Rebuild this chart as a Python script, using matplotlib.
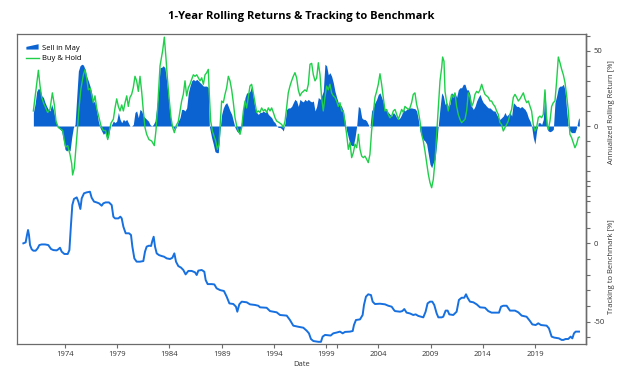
import matplotlib
matplotlib.use("Agg")
import matplotlib.pyplot as plt
from matplotlib.patches import Polygon, Patch
from matplotlib.lines import Line2D
from matplotlib.legend_handler import HandlerPatch
from matplotlib.ticker import FixedLocator, FuncFormatter

plt.rcParams['font.family'] = ['Open Sans', 'DejaVu Sans']
plt.rcParams['axes.unicode_minus'] = False

# Sell in May: 1-year rolling return [%]
sim_years = [
    1970.97, 1971.13, 1971.29, 1971.45, 1971.61, 1971.77, 1971.93, 1972.09, 1972.25, 1972.40,
    1972.56, 1972.72, 1972.88, 1973.04, 1973.20, 1973.36, 1973.52, 1973.68, 1973.84, 1974.00,
    1974.16, 1974.32, 1974.48, 1974.64, 1974.80, 1974.96, 1975.12, 1975.28, 1975.44, 1975.60,
    1975.76, 1975.92, 1976.07, 1976.23, 1976.39, 1976.55, 1976.71, 1976.87, 1977.03, 1977.19,
    1977.35, 1977.51, 1977.67, 1977.83, 1977.99, 1978.15, 1978.31, 1978.47, 1978.63, 1978.79,
    1978.95, 1979.11, 1979.27, 1979.43, 1979.59, 1979.75, 1979.91, 1980.06, 1980.22, 1980.38,
    1980.54, 1980.70, 1980.86, 1981.02, 1981.18, 1981.34, 1981.50, 1981.66, 1981.82, 1981.98,
    1982.14, 1982.30, 1982.46, 1982.62, 1982.78, 1982.94,
    1983.10, 1983.26, 1983.41, 1983.57, 1983.73, 1983.89, 1984.05, 1984.21, 1984.37, 1984.53,
    1984.69, 1984.85, 1985.01, 1985.17, 1985.33, 1985.49, 1985.65, 1985.81, 1985.97, 1986.13,
    1986.29, 1986.45, 1986.61, 1986.77, 1986.93, 1987.09, 1987.25, 1987.41, 1987.57, 1987.72,
    1987.82, 1987.88, 1988.04, 1988.20, 1988.36, 1988.52, 1988.68, 1988.84, 1989.00, 1989.16,
    1989.32, 1989.48, 1989.64, 1989.80, 1989.96, 1990.12, 1990.28, 1990.44, 1990.60, 1990.76,
    1990.92, 1991.08, 1991.24, 1991.39, 1991.55, 1991.71, 1991.87, 1992.03, 1992.19, 1992.35,
    1992.51, 1992.67, 1992.83, 1992.99, 1993.15, 1993.31, 1993.47, 1993.63, 1993.79, 1993.95,
    1994.11, 1994.27, 1994.43, 1994.59, 1994.75, 1994.91, 1995.07, 1995.22, 1995.38, 1995.54,
    1995.70, 1995.86,
    1996.02, 1996.18, 1996.34, 1996.50, 1996.66, 1996.82, 1996.98, 1997.14, 1997.30, 1997.46,
    1997.62, 1997.78, 1997.94, 1998.10, 1998.26, 1998.42, 1998.57, 1998.73, 1998.89, 1999.05,
    1999.21, 1999.37, 1999.53, 1999.69, 1999.85, 2000.01, 2000.17, 2000.33, 2000.49, 2000.65,
    2000.81, 2000.97, 2001.13, 2001.29, 2001.45, 2001.61, 2001.77, 2001.93, 2002.09, 2002.25,
    2002.41, 2002.57, 2002.72, 2002.88, 2003.04, 2003.20, 2003.36, 2003.52, 2003.68, 2003.84,
    2004.00, 2004.16, 2004.32, 2004.48, 2004.64, 2004.80, 2004.96, 2005.12, 2005.28, 2005.44,
    2005.60, 2005.76, 2005.92, 2006.08, 2006.24, 2006.40, 2006.55, 2006.71, 2006.87, 2007.03,
    2007.19, 2007.35, 2007.51, 2007.67, 2007.83, 2007.99, 2008.15, 2008.31, 2008.47, 2008.63,
    2008.79,
    2008.95, 2009.11, 2009.27, 2009.43, 2009.59, 2009.75, 2009.91, 2010.07, 2010.23, 2010.39,
    2010.55, 2010.70, 2010.86, 2011.02, 2011.18, 2011.34, 2011.50, 2011.66, 2011.82, 2011.98,
    2012.14, 2012.30, 2012.46, 2012.62, 2012.78, 2012.94, 2013.10, 2013.26, 2013.42, 2013.58,
    2013.74, 2013.90, 2014.06, 2014.22, 2014.38, 2014.54, 2014.70, 2014.85, 2015.01, 2015.17,
    2015.33, 2015.49, 2015.65, 2015.81, 2015.97, 2016.13, 2016.29, 2016.45, 2016.61, 2016.77,
    2016.93, 2017.09, 2017.25, 2017.41, 2017.57, 2017.73, 2017.89, 2018.05, 2018.21, 2018.37,
    2018.53, 2018.68, 2018.84, 2019.00, 2019.16, 2019.32, 2019.48, 2019.64, 2019.80, 2019.96,
    2020.06, 2020.18, 2020.28, 2020.44, 2020.60, 2020.76, 2020.92, 2021.08, 2021.24, 2021.40,
    2021.56, 2021.72, 2021.88, 2022.04, 2022.20, 2022.35, 2022.51, 2022.67, 2022.83, 2022.99,
    2023.15, 2023.25,
]
sim_ret = [
    9, 14.4, 23, 25, 24, 20, 19, 15.5, 13, 11,
    10, 14.4, 11, 5.5, 1, -1, -2.2, -3.3, -9, -15.5,
    -16.6, -15.5, -16.6, -7.7, -1, 1, 19, 36.5, 40, 41,
    40.5, 37.6, 33, 30, 26.5, 22, 16.6, 15.5, 10, 3.3,
    -1, -3.3, -5.5, -4.4, -7.7, -7.7, -1, 1, 3.3, 2.2,
    3.3, 9, 4.4, 2.2, 4.4, 3.3, 4.4, 2.2, 0, 0,
    1, 9, 10, 5.5, 11, 10, 6.6, 5.5, 4.4, 3.3,
    1, 0, 1, 3.3, 12, 21,
    38.7, 39, 40, 38.7, 30, 19, 7.7, 1, -1, -2.6,
    0, 3.3, 5.5, 11, 11, 10, 12, 22, 26.5, 30,
    31, 30, 31, 30, 28.8, 27.7, 26.5, 26.5, 26.5, 25.4,
    0, -2.2, -7.7, -12, -17, -17.7, -17.7, -3.3, 7.7, 12,
    14.4, 15.5, 13, 10, 7.7, 3.3, -1, -3.3, -4.4, -3.3,
    3.3, 12, 19, 22, 22, 23, 26.5, 19, 12, 9,
    7.7, 9, 9, 10, 9, 10, 7.7, 6.6, 5.5, 3.3,
    2.2, 0, -1, -1, -1.8, -3.3, 2.2, 11, 12, 12,
    13, 15.5,
    17.7, 16.6, 13, 17.7, 16.6, 16, 17.7, 16.6, 17.7, 16.6,
    16, 16.6, 10, 13, 19, 17.7, 20, 23, 41, 40,
    34, 35.4, 33, 28.8, 23, 19, 15.5, 14.4, 13, 10,
    3.3, -3.3, -7.7, -12, -13, -13, -7.7, 0, 13, 12,
    5.5, 4.4, 4.4, 3.3, 1, -1, 10, 12, 15.5, 17.7,
    21, 22, 19, 15.5, 11, 10, 9, 7.7, 6.6, 9,
    7.7, 5.5, 4.4, 5.5, 7.7, 11, 10, 11, 11.7, 12,
    12, 11.7, 11.5, 10, 4.4, -3.3, -6.6, -9, -10, -12,
    -18.8,
    -25.4, -27.7, -24.3, -22, -12, 1, 12, 22, 20, 14.4,
    15.5, 13, 14.4, 22, 21, 22, 19, 24, 25.4, 25.4,
    27.7, 27.7, 24, 24, 21, 13, 11, 13, 16.6, 19,
    21, 17.7, 15.5, 14.4, 13, 12, 12, 11, 10, 10,
    7.7, 5.5, 4.4, 5.5, 6.6, 9, 6.6, 7.7, 9, 6.6,
    15.5, 14.4, 13, 13, 12, 13, 12, 11, 9, 5.5,
    3.3, 0, -7.7, -12, -3.3, 2.2, 2.2, 1, 4.4, 24,
    12, -2.2, -3.3, -3.8, -3.3, -2.2, 15.5, 20, 25.4, 26.5,
    26.5, 27.7, 24, 10, -1, -3.3, -4.4, -4.4, -4.4, -1,
    4.4, 5.5,
]

# Buy & Hold: 1-year rolling return [%]
bh_years = [
    1970.97, 1971.45, 1971.61, 1971.77, 1971.93, 1972.15, 1972.34, 1972.56, 1972.79, 1972.98,
    1973.14, 1973.36, 1973.59, 1973.78, 1973.94, 1974.06, 1974.26, 1974.48, 1974.64, 1974.73,
    1974.89, 1975.02, 1975.18, 1975.34, 1975.53, 1975.76, 1975.92, 1976.07, 1976.23, 1976.43,
    1976.55, 1976.71, 1976.87, 1977.03, 1977.26, 1977.45, 1977.67, 1977.89, 1978.09, 1978.25,
    1978.41, 1978.63, 1978.79, 1978.95, 1979.11, 1979.27, 1979.43, 1979.59, 1979.75, 1979.91,
    1980.06, 1980.22, 1980.38, 1980.54, 1980.70, 1980.86, 1981.02, 1981.18, 1981.34, 1981.50,
    1981.66, 1981.82, 1982.04, 1982.30, 1982.55, 1982.71, 1982.87,
    1983.10, 1983.35, 1983.51, 1983.67, 1983.80, 1983.96, 1984.15, 1984.31, 1984.47, 1984.63,
    1984.85, 1985.01, 1985.17, 1985.33, 1985.49, 1985.65, 1985.81, 1985.97, 1986.13, 1986.29,
    1986.45, 1986.61, 1986.77, 1986.93, 1987.09, 1987.25, 1987.41, 1987.57, 1987.72, 1987.82,
    1987.95, 1988.11, 1988.27, 1988.43, 1988.59, 1988.75, 1988.84, 1989.00, 1989.16, 1989.32,
    1989.48, 1989.64, 1989.80, 1989.96, 1990.12, 1990.28, 1990.44, 1990.60, 1990.76, 1990.92,
    1991.08, 1991.24, 1991.39, 1991.55, 1991.71, 1991.87, 1992.03, 1992.19, 1992.35, 1992.51,
    1992.67, 1992.83, 1992.99, 1993.15, 1993.31, 1993.47, 1993.63, 1993.79, 1993.95, 1994.11,
    1994.27, 1994.52, 1994.75, 1994.91, 1995.07, 1995.22, 1995.38, 1995.54, 1995.70, 1995.86,
    1996.02, 1996.18, 1996.34, 1996.50, 1996.66, 1996.82, 1996.98, 1997.14, 1997.30, 1997.46,
    1997.62, 1997.78, 1997.94, 1998.10, 1998.26, 1998.42, 1998.57, 1998.73, 1998.89, 1999.05,
    1999.21, 1999.37, 1999.53, 1999.69, 1999.85, 2000.01, 2000.17, 2000.33, 2000.49, 2000.65,
    2000.81, 2000.97, 2001.13, 2001.29, 2001.45, 2001.61, 2001.77, 2001.93, 2002.09, 2002.25,
    2002.41, 2002.57, 2002.72, 2002.88, 2003.04, 2003.20, 2003.36, 2003.52, 2003.68, 2003.84,
    2004.00, 2004.16, 2004.32, 2004.48, 2004.64, 2004.80, 2004.96, 2005.12, 2005.28, 2005.44,
    2005.60, 2005.76, 2005.92, 2006.08, 2006.24, 2006.40, 2006.55, 2006.71, 2006.87, 2007.03,
    2007.19, 2007.35, 2007.51, 2007.67, 2007.83, 2007.99, 2008.15, 2008.31, 2008.47, 2008.63,
    2008.79,
    2008.95, 2009.11, 2009.27, 2009.43, 2009.59, 2009.75, 2009.91, 2010.07, 2010.16, 2010.29,
    2010.39, 2010.55, 2010.70, 2010.86, 2011.02, 2011.18, 2011.34, 2011.50, 2011.66, 2011.82,
    2011.98, 2012.14, 2012.30, 2012.46, 2012.62, 2012.78, 2012.94, 2013.10, 2013.26, 2013.42,
    2013.58, 2013.74, 2013.90, 2014.06, 2014.22, 2014.38, 2014.54, 2014.70, 2014.85, 2015.01,
    2015.17, 2015.33, 2015.49, 2015.65, 2015.81, 2015.97, 2016.13, 2016.29, 2016.45, 2016.61,
    2016.77, 2016.93, 2017.09, 2017.25, 2017.41, 2017.57, 2017.73, 2017.89, 2018.05, 2018.21,
    2018.37, 2018.53, 2018.68, 2018.84, 2019.00, 2019.16, 2019.32, 2019.48, 2019.64, 2019.80,
    2019.96, 2020.06, 2020.18, 2020.28, 2020.44, 2020.60, 2020.76, 2020.92, 2021.08, 2021.24,
    2021.40, 2021.56, 2021.72, 2021.88, 2022.04, 2022.20, 2022.35, 2022.51, 2022.67, 2022.83,
    2022.99, 2023.15, 2023.25,
]
bh_ret = [
    10, 37, 26.5, 19, 15.5, 12, 9, 11, 22, 14,
    3, -1, -2, -3, -10, -14, -13, -19, -25, -32.5,
    -28, -17, -3, 12, 25, 34, 37.5, 32, 24, 25,
    21, 15.5, 20, 12, 5.5, 0, -3, -3, -9, -3,
    2, 4.5, 12, 18, 13, 10, 14, 10, 15.5, 20,
    13, 19, 21, 25.5, 33, 30, 23, 33, 23, 10,
    -1, -5.5, -9, -10, -13, -3, 12,
    40, 50, 59, 45, 32, 19, 5.5, -1, -4.4, 0,
    3, 10, 16.6, 21, 30, 20, 25.4, 27.7, 31, 34,
    33, 34, 32, 30, 32, 27.7, 34, 35.4, 37.6, 21,
    3.3, -3.3, -6.6, -10, -15.5, -12, -1, 16.6, 15.5, 21,
    25.4, 33, 30, 24, 15.5, 5.5, 0, -3.3, -5.5, -1,
    10, 16.6, 12, 19, 26.5, 27.7, 22, 15.5, 9, 10,
    9, 12, 10, 11, 9, 12, 10, 12, 9, 5.5,
    3.3, 2.2, 1, -1, 3.3, 12, 22, 26.5, 30, 33,
    35.4, 32, 24, 20, 22, 23, 24, 23, 27.7, 41,
    41.6, 34, 30, 32, 42, 34, 19, 10, 19, 26.5,
    24, 27.7, 22, 20, 19, 16.6, 13, 15.5, 10, 10,
    2.2, -5.5, -15.5, -11, -21, -17.7, -12, -14.4, -5.5, -15.5,
    -20, -21, -20, -22, -24.3, -18.8, -3.3, 7.7, 19, 23,
    27.7, 34.7, 27.7, 19, 10, 11, 7.7, 5.5, 6.6, 10,
    11, 7.7, 4.4, 7.7, 11, 9, 13, 12, 11, 12,
    15.5, 21, 22, 14.4, 10, 3.3, -5.5, -10, -16.6, -24.3,
    -32,
    -37.6, -41, -35.4, -23, -5.5, 12, 30, 38.7, 45.8, 43,
    23, 15.5, 10, 15.5, 21, 19, 22, 13, 7.7, 4.4,
    2.2, 3.3, 4.4, 10, 22, 19, 13, 15.5, 21, 23,
    22, 24, 27.7, 24, 21, 20, 19, 16.6, 16.6, 14.4,
    13, 10, 7.7, 2.2, 1, -3.3, -1, 1, 3.3, 7.7,
    11, 19, 21, 19, 16.6, 18, 20, 22, 18, 15.5,
    16.6, 13, 10, 1, -3.3, -1, 5.5, 6.6, 5.5, 7.7,
    24, 10, 0, -2.2, 3.3, 13, 15.5, 16.6, 30, 45.8,
    42, 37.6, 34, 28.8, 20, 10, -5.5, -7.7, -11, -14.4,
    -12, -7.7, -7.3,
]

# Tracking to benchmark [%]
trk_years = [
    1970.01, 1970.23, 1970.36, 1970.46, 1970.55, 1970.65, 1970.81, 1970.97, 1971.19, 1971.38,
    1971.54, 1971.77, 1972.09, 1972.40, 1972.66, 1972.88, 1973.20, 1973.36, 1973.52, 1973.68,
    1973.94, 1974.26, 1974.42, 1974.57, 1974.70, 1974.86, 1975.12, 1975.28, 1975.47, 1975.60,
    1975.82, 1976.08, 1976.39, 1976.55, 1976.78, 1977.03, 1977.26, 1977.51, 1977.67, 1977.89,
    1978.21, 1978.47, 1978.63, 1978.79, 1979.11, 1979.30, 1979.43, 1979.59, 1979.81, 1980.13,
    1980.32, 1980.45, 1980.64, 1980.86, 1981.18, 1981.50, 1981.66, 1981.82, 1982.04, 1982.24,
    1982.36, 1982.49, 1982.62, 1982.78, 1983.00, 1983.26, 1983.48, 1983.74, 1984.06, 1984.28,
    1984.47, 1984.63, 1984.85, 1985.11, 1985.33, 1985.55, 1985.81, 1986.13, 1986.45, 1986.61,
    1986.77, 1987.09, 1987.34, 1987.47, 1987.66, 1988.04, 1988.30, 1988.52, 1988.84, 1989.22,
    1989.48, 1989.74, 1990.12, 1990.37, 1990.50, 1990.69, 1990.92, 1991.40, 1991.71, 1992.19,
    1992.51, 1992.67, 1993.31, 1993.63, 1994.27, 1994.59, 1995.23, 1995.54, 1995.86, 1996.34,
    1996.82, 1997.14, 1997.36, 1997.55, 1997.78, 1998.26, 1998.51, 1998.67, 1998.90, 1999.22,
    1999.44, 1999.69, 2000.01, 2000.33, 2000.59, 2000.81, 2001.29, 2001.55, 2001.67, 2001.86,
    2002.25, 2002.50, 2002.63, 2002.82, 2003.04, 2003.30, 2003.46, 2003.68, 2004.16, 2004.64,
    2004.96, 2005.28, 2005.50, 2005.60, 2006.08, 2006.30, 2006.49, 2006.71, 2007.03, 2007.35,
    2007.58, 2007.83, 2008.31, 2008.53, 2008.72, 2008.95, 2009.17, 2009.36, 2009.59, 2009.75,
    2010.07, 2010.22, 2010.45, 2010.64, 2010.80, 2011.18, 2011.50, 2011.72, 2011.98, 2012.23,
    2012.40, 2012.55, 2012.78, 2013.10, 2013.42, 2013.74, 2014.22, 2014.53, 2014.85, 2015.33,
    2015.56, 2015.75, 2015.97, 2016.29, 2016.61, 2017.09, 2017.41, 2017.73, 2018.20, 2018.52,
    2018.75, 2019.07, 2019.32, 2019.58, 2020.12, 2020.34, 2020.60, 2020.85, 2021.30, 2021.56,
    2021.72, 2021.94, 2022.19, 2022.42, 2022.58, 2022.74, 2022.90, 2023.15, 2023.22,
]
trk_val = [
    0, 0.6, 5.3, 8.5, 5.3, -1.1, -3.8, -4.7, -4.7, -3.2,
    -1.1, -0.7, -0.7, -1.1, -3.6, -4.3, -4.5, -3.8, -2.8, -5.3,
    -6.8, -6.8, -4.3, 11.7, 24.4, 28.3, 29.3, 26.6, 21.9, 28.7,
    31.9, 32.5, 32.9, 29.1, 26.6, 26.1, 25.5, 24.0, 25.5, 26.1,
    26.1, 24.4, 17.0, 15.9, 15.9, 17.0, 15.9, 10.6, 6.4, 6.4,
    5.3, -2.1, -9.6, -11.7, -11.7, -11.3, -5.3, -2.1, -1.5, -1.7,
    1.5, 4.2, -2.1, -6.4, -7.5, -8.1, -8.5, -9.6, -10.0, -9.2,
    -6.4, -11.7, -14.5, -15.5, -17.0, -19.8, -17.6, -17.6, -18.5, -20.2,
    -17.4, -17.0, -18.1, -23.4, -26.0, -26.0, -26.2, -28.7, -29.8, -30.4,
    -34.0, -38.3, -38.7, -40.4, -43.6, -38.9, -37.2, -37.6, -38.9, -39.3,
    -39.8, -40.8, -41.1, -43.2, -44.0, -45.7, -46.1, -48.9, -52.5, -53.2,
    -53.8, -55.7, -57.4, -61.0, -62.3, -62.8, -62.8, -59.5, -58.4, -58.6,
    -58.8, -57.4, -56.9, -56.3, -57.4, -56.5, -56.3, -55.9, -52.1, -48.9,
    -48.5, -45.7, -39.3, -34.0, -32.5, -33.0, -37.2, -38.7, -38.5, -38.9,
    -39.8, -40.4, -42.5, -43.2, -43.6, -43.2, -41.9, -44.2, -44.7, -45.7,
    -45.3, -46.3, -47.2, -43.6, -38.3, -37.2, -37.2, -39.3, -44.7, -47.2,
    -47.2, -46.8, -42.9, -42.9, -45.3, -45.7, -43.6, -36.1, -34.7, -34.7,
    -32.5, -34.7, -37.2, -37.6, -38.9, -40.8, -41.1, -43.2, -44.2, -44.2,
    -44.2, -40.4, -39.8, -39.8, -42.9, -42.9, -44.0, -46.1, -46.8, -49.5,
    -51.7, -52.1, -51.0, -52.1, -52.5, -54.2, -59.5, -60.1, -60.6, -61.6,
    -61.6, -61.0, -61.0, -59.5, -60.6, -57.4, -56.3, -56.3, -56.3,
]

year_ticks = [1974, 1979, 1984, 1989, 1994, 1999, 2004, 2009, 2014, 2019]
ret_ticks = list(range(-50, 61, 10))
ret_labelled = [0, 50]
trk_ticks = list(range(-60, 41, 10))
trk_labelled = [-50, 0]

fill_blue = '#0a63d0'
line_blue = '#1770e0'
green = '#1fcf4a'
axis_grey = '#6b6b6b'

fig = plt.figure(figsize=(6.24, 3.81), dpi=100)
ax = fig.add_axes([0.0277, 0.0971, 0.9109, 0.8137])
ax.set_xlim(1969.43, 2023.86)
ax.set_yticks([])
ax.set_xticks(year_ticks)
ax.set_xticklabels([str(y) for y in year_ticks])
ax.set_xticks([2000], minor=True)
ax.tick_params(axis='x', which='both', length=3, width=0.8, color=axis_grey,
               labelsize=5.5, labelcolor='#333333', pad=2)
ax.set_xlabel('Date', fontsize=5.5, color='#333333', labelpad=2)
for s in ax.spines.values():
    s.set_color(axis_grey)
    s.set_linewidth(0.9)

ax_r = ax.twinx()
ax_r.set_ylim(-144.75, 61.1)
ax_t = ax.twinx()
ax_t.set_ylim(-64.2, 133.5)

for a, ticks, shown in ((ax_r, ret_ticks, ret_labelled), (ax_t, trk_ticks, trk_labelled)):
    for name, s in a.spines.items():
        s.set_visible(name == 'right')
        s.set_color(axis_grey)
        s.set_linewidth(0.9)
    a.yaxis.set_major_locator(FixedLocator(ticks))
    a.yaxis.set_major_formatter(
        FuncFormatter(lambda v, p, shown=shown: f'{v:.0f}' if round(v) in shown else ''))
    a.tick_params(axis='y', length=3, width=0.8, color=axis_grey, labelsize=5.5,
                  labelcolor='#333333', pad=2.5)

ax_r.fill_between(sim_years, sim_ret, 0, color=fill_blue, lw=0)
ax_r.plot(bh_years, bh_ret, color=green, lw=1.0)
ax_t.plot(trk_years, trk_val, color=line_blue, lw=1.4)

ax_r.set_ylabel('Annualized Rolling Return [%]', fontsize=5.5, color='#333333')
ax_r.yaxis.set_label_coords(1.039, 0.748)
ax_t.set_ylabel('Tracking to Benchmark [%]', fontsize=5.5, color='#333333')
ax_t.yaxis.set_label_coords(1.039, 0.248)


def area_icon(legend, orig_handle, xdescent, ydescent, width, height, fontsize):
    x0, y0 = -xdescent, -ydescent
    return Polygon([[x0, y0], [x0 + width, y0], [x0 + width, y0 + height],
                    [x0, y0 + 0.5 * height]], closed=True)


handles = [Patch(color=fill_blue, lw=0), Line2D([], [], color=green, lw=1.0)]
ax_t.legend(handles, ['Sell in May', 'Buy & Hold'], loc='upper left',
            bbox_to_anchor=(0.016, 0.967), frameon=False, fontsize=5.5,
            borderpad=0, borderaxespad=0, handlelength=1.6, handletextpad=0.4,
            labelspacing=0.45, handler_map={Patch: HandlerPatch(patch_func=area_icon)})

fig.text(0.483, 1 - 17 / 381, '1-Year Rolling Returns & Tracking to Benchmark',
         ha='center', va='center', fontsize=8, fontweight='bold')

fig.savefig('out.png', dpi=100)
